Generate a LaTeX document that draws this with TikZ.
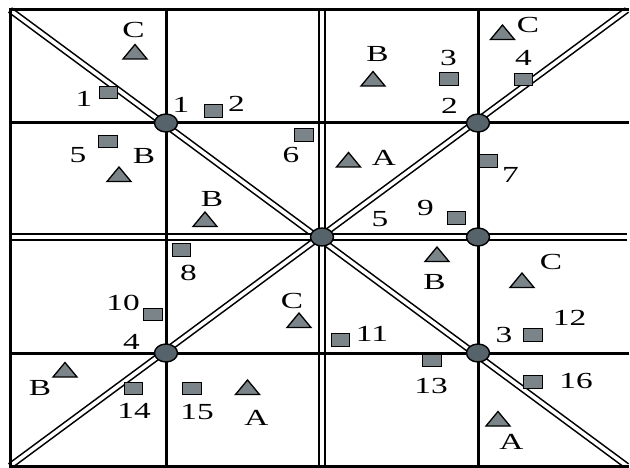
\documentclass[tikz,border=0pt]{standalone}
\usepackage{fontspec}
\usepackage{graphicx}
\setmainfont{Liberation Serif}
\usetikzlibrary{shapes.geometric}
\definecolor{sqgray}{HTML}{7A8489}
\definecolor{circgray}{HTML}{56636A}
\newcommand\lbx[1]{\scalebox{1.45}[1]{#1}}
\tikzset{
  single/.style={line width=3pt, line cap=rect},
  dbl/.style={line width=1.8pt, double=white, double distance=4.2pt},
  ddiag/.style={line width=1.6pt, double=white, double distance=3.6pt},
  sq/.style={rectangle, draw, line width=1.4pt, fill=sqgray, minimum width=18.5pt, minimum height=12.5pt, inner sep=0pt},
  hub/.style={ellipse, draw, line width=1.4pt, fill=circgray, minimum width=23pt, minimum height=18pt, inner sep=0pt},
  lbl/.style={inner sep=0pt, font=\fontsize{23}{25}\selectfont},
  tri/.pic={\draw[line width=1.3pt, fill=sqgray, line join=miter] (-12,7) -- (12,7) -- (0,-7.5) -- cycle;}
}
\begin{document}
\begin{tikzpicture}[x=1pt,y=-1pt]
\useasboundingbox (0,0) rectangle (630,468);
% grid coordinates
\coordinate (TL) at (10,10);
\coordinate (TR) at (627,10);
\coordinate (BL) at (10,466);
\coordinate (BR) at (627,466);
\coordinate (T1) at (166,10);  \coordinate (B1) at (166,466);
\coordinate (T2) at (322,10);  \coordinate (B2) at (322,466);
\coordinate (T3) at (478,10);  \coordinate (B3) at (478,466);
\coordinate (L1) at (10,123);  \coordinate (R1) at (627,123);
\coordinate (L2) at (10,237);  \coordinate (R2) at (627,237);
\coordinate (L3) at (10,353);  \coordinate (R3) at (627,353);
% double lines
\draw[ddiag] (TL) -- (BR);
\draw[ddiag] (BL) -- (TR);
\draw[dbl] (L2) -- (R2);
\draw[dbl] (T2) -- (B2);
% single lines
\draw[single] (TL) -- (TR);
\draw[single] (BL) -- (BR);
\draw[single] (TL) -- (BL);
\draw[single] (T1) -- (B1);
\draw[single] (T3) -- (B3);
\draw[single] (L1) -- (R1);
\draw[single] (L3) -- (R3);
% hubs
\node[hub] (h1) at (166,123) {};
\node[hub] (h2) at (478,123) {};
\node[hub] (h3) at (478,353) {};
\node[hub] (h4) at (166,353) {};
\node[hub] (h5) at (322,237) {};
\node[hub] (h6) at (478,237) {};
% hub labels
\node[lbl] (hl1) at (181,105) {\lbx{1}};
\node[lbl] (hl2) at (449.5,106) {\lbx{2}};
\node[lbl] (hl3) at (504,335) {\lbx{3}};
\node[lbl] (hl4) at (131.5,341.5) {\lbx{4}};
\node[lbl] (hl5) at (380,219) {\lbx{5}};
% squares
\node[sq] (s1) at (108.5,92.5) {};
\node[sq] (s2) at (213.5,111) {};
\node[sq] (s3) at (449,79) {};
\node[sq] (s4) at (523.5,79.5) {};
\node[sq] (s5) at (108,141.5) {};
\node[sq] (s6) at (304,135) {};
\node[sq] (s7) at (488.5,161) {};
\node[sq] (s8) at (181.5,250) {};
\node[sq] (s9) at (456.5,218) {};
\node[sq] (s10) at (153,314.5) {};
\node[sq] (s11) at (340.5,340) {};
\node[sq] (s12) at (533,335) {};
\node[sq] (s13) at (432,360.5) {};
\node[sq] (s14) at (133.5,388.5) {};
\node[sq] (s15) at (192,388.5) {};
\node[sq] (s16) at (533,382) {};
% square labels
\node[lbl] (sl1) at (84,99) {\lbx{1}};
\node[lbl] (sl2) at (236.5,103.5) {\lbx{2}};
\node[lbl] (sl3) at (448.5,57.5) {\lbx{3}};
\node[lbl] (sl4) at (523.5,57.5) {\lbx{4}};
\node[lbl] (sl5) at (78,155) {\lbx{5}};
\node[lbl] (sl6) at (291,154.5) {\lbx{6}};
\node[lbl] (sl7) at (510.5,175) {\lbx{7}};
\node[lbl] (sl8) at (188.5,272.5) {\lbx{8}};
\node[lbl] (sl9) at (425.5,207.5) {\lbx{9}};
\node[lbl] (sl10) at (123,302.5) {\lbx{10}};
\node[lbl] (sl11) at (372,334) {\lbx{11}};
\node[lbl] (sl12) at (569.5,317.5) {\lbx{12}};
\node[lbl] (sl13) at (431,386) {\lbx{13}};
\node[lbl] (sl14) at (134,411) {\lbx{14}};
\node[lbl] (sl15) at (197,412) {\lbx{15}};
\node[lbl] (sl16) at (576,381) {\lbx{16}};
% triangles
\pic at (135,52) {tri};
\pic at (119,174.5) {tri};
\pic at (205,219.5) {tri};
\pic at (373,79) {tri};
\pic at (502.5,32.5) {tri};
\pic at (348.5,160) {tri};
\pic at (299,320.5) {tri};
\pic at (65,370) {tri};
\pic at (247.5,387.5) {tri};
\pic at (437,254.5) {tri};
\pic at (522,280.5) {tri};
\pic at (498,419) {tri};
% triangle labels
\node[lbl] (tl1) at (133.5,30.5) {\lbx{C}};
\node[lbl] (tl2) at (144,156.5) {\lbx{B}};
\node[lbl] (tl3) at (212,199.5) {\lbx{B}};
\node[lbl] (tl4) at (377.5,54) {\lbx{B}};
\node[lbl] (tl5) at (528,25) {\lbx{C}};
\node[lbl] (tl6) at (384,158) {\lbx{A}};
\node[lbl] (tl7) at (292,301) {\lbx{C}};
\node[lbl] (tl8) at (40,388) {\lbx{B}};
\node[lbl] (tl9) at (256.5,417.5) {\lbx{A}};
\node[lbl] (tl10) at (434.5,282.5) {\lbx{B}};
\node[lbl] (tl11) at (551,261.5) {\lbx{C}};
\node[lbl] (tl12) at (511.5,442) {\lbx{A}};
\end{tikzpicture}
\end{document}
